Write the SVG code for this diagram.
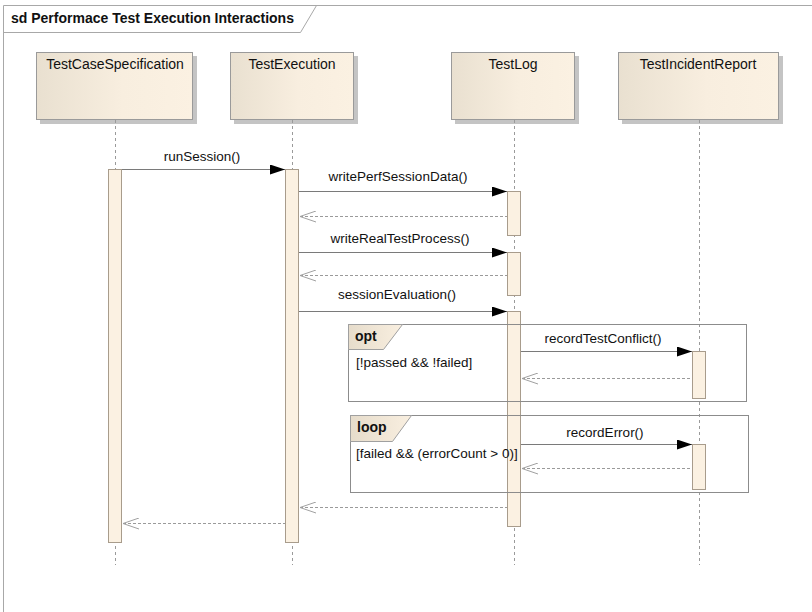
<svg xmlns="http://www.w3.org/2000/svg" width="812" height="612" viewBox="0 0 812 612">
  <defs>
    <linearGradient id="headFill" x1="0" y1="0" x2="1" y2="0">
      <stop offset="0" stop-color="#e9e0d0"/>
      <stop offset="0.55" stop-color="#f8eedf"/>
      <stop offset="1" stop-color="#fbf1e2"/>
    </linearGradient>
    <linearGradient id="tabFill" x1="0" y1="0" x2="1" y2="0">
      <stop offset="0" stop-color="#e6dccb"/>
      <stop offset="1" stop-color="#f9efe0"/>
    </linearGradient>
    <marker id="callHead" markerWidth="16" markerHeight="10" refX="15" refY="5" orient="auto" markerUnits="userSpaceOnUse">
      <path d="M0,0 L15,5 L0,10 Z" fill="#000"/>
    </marker>
    <marker id="replyHead" markerWidth="18" markerHeight="14" refX="1" refY="6" orient="auto" markerUnits="userSpaceOnUse">
      <path d="M17,0.5 L1,6 L17,11.5" fill="none" stroke="#a0a0a0" stroke-width="1"/>
    </marker>
  </defs>
  <style>
    text { font-family: "Liberation Sans", Arial, sans-serif; fill: #111; }
    .title { font-size: 14px; font-weight: bold; }
    .head { font-size: 14px; text-anchor: middle; }
    .msg { font-size: 13.5px; text-anchor: middle; }
    .guard { font-size: 13.5px; }
    .tab { font-size: 14px; font-weight: bold; }
    .frame { fill: none; stroke: #a8a8a8; stroke-width: 1; }
    .box { fill: url(#headFill); stroke: #9a9a9a; stroke-width: 1; }
    .shadow { fill: #c4c4c4; }
    .life { stroke: #9a9a9a; stroke-width: 1; stroke-dasharray: 3 3; fill: none; }
    .act { fill: #fbf1e2; stroke: #a89c8c; stroke-width: 1; }
    .call { stroke: #7a7a7a; stroke-width: 1; fill: none; marker-end: url(#callHead); }
    .reply { stroke: #9a9a9a; stroke-width: 1; stroke-dasharray: 3 2; fill: none; marker-start: url(#replyHead); }
    .frag { fill: none; stroke: #8c8c8c; stroke-width: 1; }
    .fragtab { fill: url(#tabFill); stroke: #a0a0a0; stroke-width: 1; }
  </style>

  <rect x="0" y="0" width="812" height="612" fill="#fff"/>

  <!-- diagram frame with name tab -->
  <g id="diagram-frame">
    <path class="frame" d="M812.5,5.5 H3.5 V612"/>
    <path class="frame" d="M3.5,32.5 H300.5 L316.5,5.5"/>
    <text class="title" x="11" y="23">sd Performace Test Execution Interactions</text>
  </g>

  <!-- lifelines -->
  <g id="TestCaseSpecification">
    <rect class="shadow" x="40" y="56" width="157" height="68"/>
    <rect class="box" x="36.5" y="52.5" width="156" height="67"/>
    <text class="head" x="115" y="69">TestCaseSpecification</text>
    <line class="life" x1="115.5" y1="120" x2="115.5" y2="565"/>
    <rect class="act" x="108.5" y="169.5" width="13" height="373"/>
  </g>
  <g id="TestExecution">
    <rect class="shadow" x="234" y="56" width="124" height="68"/>
    <rect class="box" x="230.5" y="52.5" width="123" height="67"/>
    <text class="head" x="292" y="69">TestExecution</text>
    <line class="life" x1="292.5" y1="120" x2="292.5" y2="565"/>
    <rect class="act" x="285.5" y="169.5" width="13" height="373"/>
  </g>
  <g id="TestLog">
    <rect class="shadow" x="455" y="56" width="124" height="68"/>
    <rect class="box" x="451.5" y="52.5" width="123" height="67"/>
    <text class="head" x="513" y="69">TestLog</text>
    <line class="life" x1="514.5" y1="120" x2="514.5" y2="565"/>
    <rect class="act" x="507.5" y="191.5" width="13" height="44"/>
    <rect class="act" x="507.5" y="252.5" width="13" height="43"/>
    <rect class="act" x="507.5" y="311.5" width="13" height="215"/>
  </g>
  <g id="TestIncidentReport">
    <rect class="shadow" x="622" y="56" width="161" height="68"/>
    <rect class="box" x="618.5" y="52.5" width="160" height="67"/>
    <text class="head" x="698" y="69">TestIncidentReport</text>
    <line class="life" x1="699.5" y1="120" x2="699.5" y2="565"/>
    <rect class="act" x="692.5" y="351.5" width="13" height="47"/>
    <rect class="act" x="692.5" y="444.5" width="13" height="45"/>
  </g>

  <!-- combined fragments -->
  <g id="opt-fragment">
    <rect class="frag" x="348.5" y="324.5" width="398" height="77"/>
    <path class="fragtab" d="M348.5,324.5 H402.5 L383.5,349.5 H348.5 Z"/>
    <text class="tab" x="355" y="341">opt</text>
    <text class="guard" x="356" y="367">[!passed &amp;&amp; !failed]</text>
  </g>
  <g id="loop-fragment">
    <rect class="frag" x="350.5" y="415.5" width="398" height="77"/>
    <path class="fragtab" d="M350.5,415.5 H411.5 L392.5,441.5 H350.5 Z"/>
    <text class="tab" x="357" y="432">loop</text>
    <text class="guard" x="356" y="458">[failed &amp;&amp; (errorCount &gt; 0)]</text>
  </g>

  <!-- messages -->
  <g id="connectors">
    <line class="call" x1="122" y1="169.5" x2="285" y2="169.5"/>
    <text class="msg" x="202" y="161">runSession()</text>

    <line class="call" x1="299" y1="191.5" x2="507" y2="191.5"/>
    <text class="msg" x="398" y="181">writePerfSessionData()</text>
    <line class="reply" x1="300" y1="216.5" x2="507" y2="216.5"/>

    <line class="call" x1="299" y1="252.5" x2="507" y2="252.5"/>
    <text class="msg" x="400" y="243">writeRealTestProcess()</text>
    <line class="reply" x1="300" y1="275.5" x2="507" y2="275.5"/>

    <line class="call" x1="299" y1="311.5" x2="507" y2="311.5"/>
    <text class="msg" x="397" y="299">sessionEvaluation()</text>

    <line class="call" x1="521" y1="351.5" x2="692" y2="351.5"/>
    <text class="msg" x="603" y="343">recordTestConflict()</text>
    <line class="reply" x1="522" y1="378.5" x2="692" y2="378.5"/>

    <line class="call" x1="521" y1="444.5" x2="692" y2="444.5"/>
    <text class="msg" x="605" y="437">recordError()</text>
    <line class="reply" x1="522" y1="468.5" x2="692" y2="468.5"/>

    <line class="reply" x1="300" y1="507.5" x2="507" y2="507.5"/>
    <line class="reply" x1="123" y1="523.5" x2="285" y2="523.5"/>
  </g>
</svg>
